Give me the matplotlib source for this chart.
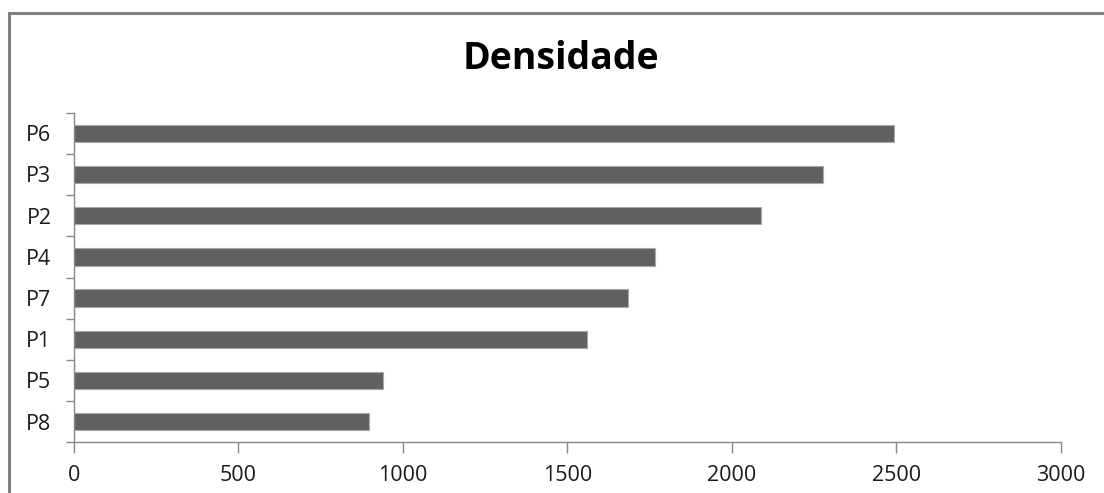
import numpy as np
import matplotlib.pyplot as plt
from matplotlib.patches import Rectangle

# data (top to bottom as shown)
categories = ["P6", "P3", "P2", "P4", "P7", "P1", "P5", "P8"]
densidade = [2492, 2276, 2087, 1765, 1684, 1561, 940, 896]
x_ticks = [0, 500, 1000, 1500, 2000, 2500, 3000]

plt.rcParams["font.family"] = ["Open Sans", "DejaVu Sans"]

fig = plt.figure(figsize=(11.04, 4.93), dpi=100)
ax = fig.add_axes([73.7 / 1104, 1 - 442.3 / 493, (1061 - 73.7) / 1104, (442.3 - 112.7) / 493])

n = len(categories)
y = np.arange(n)[::-1]
ax.barh(y, densidade, height=0.42, color="#606060", edgecolor="#a8a8a8", linewidth=0.8)

ax.set_xlim(0, 3000)
ax.set_ylim(-0.5, n - 0.5)
ax.set_xticks(x_ticks)
ax.set_xticklabels([str(v) for v in x_ticks], fontsize=15.5, color="#1a1a1a")
ax.set_yticks(y)
ax.set_yticklabels(categories, fontsize=15.5, color="#1a1a1a")
ax.set_yticks(np.arange(n + 1) - 0.5, minor=True)

ax.tick_params(axis="y", which="major", length=0, pad=16)
ax.tick_params(axis="y", which="minor", length=6, color="#888888", width=1)
ax.tick_params(axis="x", which="major", length=8, color="#888888", width=1, pad=8)

for s in ["top", "right"]:
    ax.spines[s].set_visible(False)
for s in ["left", "bottom"]:
    ax.spines[s].set_color("#888888")
    ax.spines[s].set_linewidth(1)

fig.text(0.508, 1 - 59 / 493, "Densidade", ha="center", va="center",
         fontsize=27, fontweight="bold", color="black")

# chart-area border, clipped by the image edges
fig.patches.append(Rectangle((8.5 / 1104, -0.1), 1.2, 1 - 13.5 / 493 + 0.1,
                             transform=fig.transFigure, fill=False,
                             edgecolor="#808080", linewidth=2.2))

fig.savefig("out.png", dpi=100)
